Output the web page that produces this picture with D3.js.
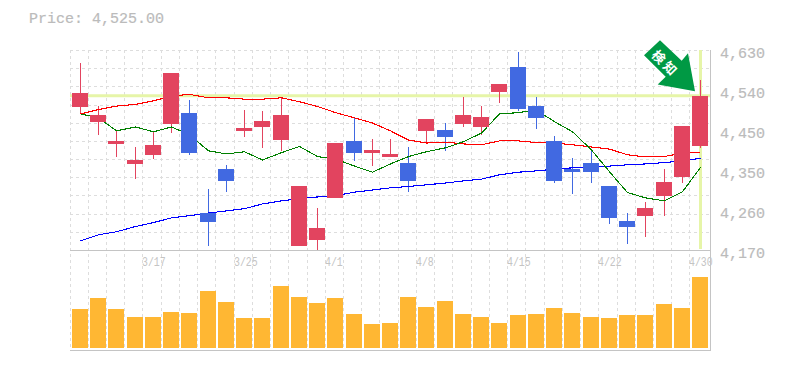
<!DOCTYPE html>
<html><head><meta charset="utf-8">
<script src="https://cdnjs.cloudflare.com/ajax/libs/d3/7.8.5/d3.min.js"></script>
<style>html,body{margin:0;padding:0;background:#fff}svg{display:block}text{font-family:"Liberation Mono",monospace}</style>
</head><body><div id="c"></div>
<script>
const dates=["3/11","3/12","3/13","3/14","3/17","3/18","3/19","3/21","3/24","3/25","3/26","3/27","3/28","3/31","4/1","4/2","4/3","4/4","4/7","4/8","4/9","4/10","4/11","4/14","4/15","4/16","4/17","4/18","4/21","4/22","4/23","4/24","4/25","4/28","4/30"];
const opens =[4499,4464,4414,4368,4389,4460,4485,4255,4356,4444,4453,4423,4179,4193,4290,4421,4393,4384,4370,4444,4446,4460,4453,4533,4591,4501,4421,4356,4370,4317,4237,4248,4294,4338,4409];
const closes=[4531,4480,4421,4377,4412,4577,4393,4234,4329,4451,4467,4480,4317,4221,4416,4393,4400,4391,4329,4471,4430,4480,4476,4552,4494,4474,4329,4349,4349,4244,4223,4267,4326,4455,4525];
const highs =[4600,4501,4446,4406,4442,4577,4515,4310,4366,4492,4490,4522,4317,4267,4416,4476,4425,4425,4407,4471,4462,4522,4501,4552,4625,4522,4432,4382,4400,4317,4255,4280,4356,4455,4561];
const lows  =[4482,4435,4385,4334,4379,4440,4388,4179,4303,4430,4405,4398,4179,4170,4290,4375,4363,4384,4303,4418,4398,4453,4434,4508,4490,4448,4324,4299,4324,4230,4184,4200,4248,4324,4405];
const maShort=[4483,4474,4444,4453,4442,4453,4435,4398,4391,4396,4377,4394,4408,4385,4379,4363,4349,4368,4385,4396,4405,4419,4439,4483,4486,4492,4465,4442,4400,4350,4302,4290,4283,4304,4360];
const maMid=[4483,4493,4501,4505,4513,4524,4528,4520,4520,4517,4517,4520,4511,4500,4486,4474,4462,4444,4423,4416,4418,4414,4412,4421,4421,4417,4416,4412,4407,4402,4389,4384,4385,4393,4394];
const maLong=[4191,4205,4212,4224,4233,4244,4249,4255,4260,4265,4276,4283,4288,4292,4295,4303,4308,4313,4316,4320,4324,4329,4333,4343,4349,4352,4356,4359,4362,4363,4366,4368,4371,4375,4381];
const volumes=[390,500,390,310,310,360,350,570,460,300,300,620,510,450,500,340,240,250,510,410,470,340,310,250,330,340,400,350,310,300,330,330,440,400,710];
const priceTicks=[4630,4538,4446,4354,4262,4170];
const priceLabels=["4,630","4,540","4,450","4,350","4,260","4,170"];
const dateTicks=["3/17","3/25","4/1","4/8","4/15","4/22","4/30"];
const currentPrice=4525;
const arrowLabel="検知";

const W=785,H=370,L=71.38,R=709.6,T=50,B=250,VB=350,RA=710;
const svg=d3.select("#c").append("svg").attr("width",W).attr("height",H);
svg.append("text").attr("x",29).attr("y",23).attr("font-size",15).attr("fill","#bbb").attr("stroke","#bbb").attr("stroke-width",0.2).text("Price: "+d3.format(",.2f")(currentPrice));

const x=d3.scaleBand().domain(dates).range([L,R]);
const y=d3.scaleLinear().domain([4170,4630]).range([B,T]);
const v=d3.scaleLinear().domain([0,1000]).range([348,248]);
const cx=d=>Math.floor(x(d)+x.bandwidth()/2)+0.5;
const edge=d=>Math.floor(x(d)-1.38)+.5;
const gl=svg.append("g").attr("stroke","#ddd").attr("stroke-dasharray","3 3").attr("fill","none");
const hLines=d3.range(12).map(i=>T+i*(B-T)/11);
gl.selectAll(".h").data(hLines).join("line").attr("x1",70).attr("x2",RA).attr("y1",d=>Math.round(d)+.5).attr("y2",d=>Math.round(d)+.5);
gl.selectAll(".v").data(dates).join("line").attr("x1",edge).attr("x2",edge).attr("y1",T).attr("y2",VB);

const ax=svg.append("g").attr("stroke","#c4c4c4").attr("fill","none");
ax.append("line").attr("x1",70).attr("x2",RA).attr("y1",B+.5).attr("y2",B+.5);
ax.append("line").attr("x1",70).attr("x2",RA).attr("y1",VB+.5).attr("y2",VB+.5);
ax.append("line").attr("x1",RA+.5).attr("x2",RA+.5).attr("y1",T).attr("y2",VB+1);

svg.append("g").selectAll("text").data(priceTicks).join("text")
 .attr("x",720).attr("y",d=>y(d)+8).attr("font-size",15).attr("fill","#bbb").attr("stroke","#bbb").attr("stroke-width",0.2)
 .text((d,i)=>priceLabels[i]);
svg.append("g").selectAll("text").data(dateTicks).join("text")
 .attr("transform",d=>`translate(${edge(d)-.5},266) scale(0.76,1)`).attr("font-size",13).attr("fill","#c4c4c4").text(d=>d);

const hl="#e6f5a8";
svg.append("line").attr("x1",70).attr("x2",RA).attr("y1",y(currentPrice)).attr("y2",y(currentPrice)).attr("stroke",hl).attr("stroke-width",3);
svg.append("line").attr("x1",cx("4/30")).attr("x2",cx("4/30")).attr("y1",T).attr("y2",B-1).attr("stroke",hl).attr("stroke-width",3);

const line=a=>d3.line().x((d,i)=>cx(dates[i])).y(d=>y(d))(a);
const red="#e2445f",blue="#4169e1";
const idx=d3.range(dates.length);
const col=i=>closes[i]>=opens[i]?red:blue;
const bw=16;
svg.append("g").selectAll("line").data(idx).join("line").attr("shape-rendering","crispEdges")
 .attr("x1",i=>cx(dates[i])).attr("x2",i=>cx(dates[i])).attr("y1",i=>y(highs[i])).attr("y2",i=>y(lows[i])).attr("stroke",col);
[[maLong,"#0000ff"],[maMid,"#ff0000"],[maShort,"#008000"]].forEach(([a,c])=>{
 svg.append("path").attr("d",line(a)).attr("fill","none").attr("stroke",c).attr("stroke-width",1.1).attr("shape-rendering","crispEdges");
});
svg.append("g").selectAll("rect").data(idx).join("rect").attr("shape-rendering","crispEdges")
 .attr("x",i=>cx(dates[i])-.5-bw/2).attr("width",bw)
 .attr("y",i=>Math.round(y(Math.max(opens[i],closes[i]))))
 .attr("height",i=>Math.max(1,Math.round(Math.abs(y(opens[i])-y(closes[i])))))
 .attr("fill",col);
svg.append("g").selectAll("rect").data(idx).join("rect").attr("shape-rendering","crispEdges")
 .attr("x",i=>cx(dates[i])-.5-bw/2).attr("width",bw)
 .attr("y",i=>v(volumes[i])).attr("height",i=>v(0)-v(volumes[i])).attr("fill","#ffb733");

const ta=cx("4/30")-5.5, tb=y(currentPrice)-4.5;
const rel=[[-35,-51],[-13.3,-30.3],[-7,-38],[0,0],[-37.3,-6.7],[-29.3,-14.3],[-51,-36]];
svg.append("polygon").attr("points",rel.map(p=>[ta+p[0],tb+p[1]].join(",")).join(" ")).attr("fill","#009944");
svg.append("text").attr("transform",`translate(${ta-29},${tb-28}) rotate(45)`).attr("text-anchor","middle").attr("dominant-baseline","central")
 .attr("font-size",13).attr("font-weight","bold").attr("letter-spacing",3).attr("fill","#fff").style("font-family","'Noto Sans CJK JP'").text(arrowLabel);
</script></body></html>
